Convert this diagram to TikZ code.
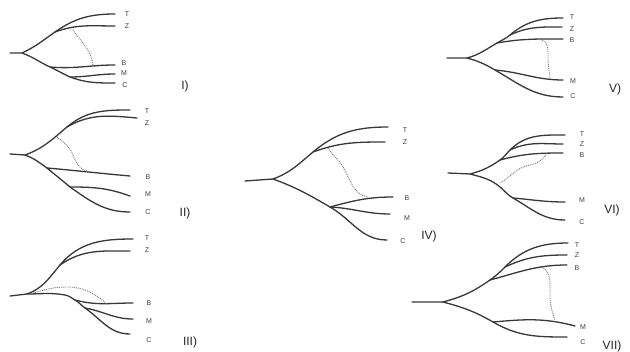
\documentclass[tikz,border=0pt]{standalone}
\usepackage{fontspec}
\setsansfont{Liberation Sans}
\begin{document}
\begin{tikzpicture}[x=1pt,y=-1pt,
  br/.style={draw=black!78, line width=1.3pt, line cap=round, line join=round},
  dt/.style={draw=black!55, line width=0.9pt, densely dotted},
  leaf/.style={font=\sffamily\fontsize{7}{7}\selectfont, text=black!75, inner sep=0pt},
  plab/.style={font=\sffamily\fontsize{12}{12}\selectfont, text=black!85, inner sep=0pt}]
\useasboundingbox (0,0) rectangle (630,352);
\fill[white] (0,0) rectangle (630,352);

% ---------- Panel I ----------
\coordinate (I0) at (10,53); \coordinate (Ir) at (22,53);
\coordinate (Iu) at (55,32); \coordinate (IT) at (115,14); \coordinate (IZ) at (115,26);
\coordinate (Il1) at (50,67); \coordinate (Il2) at (70,77);
\coordinate (IB) at (115,65); \coordinate (IM) at (115,74); \coordinate (IC) at (115,83);
\coordinate (Id1) at (73,30); \coordinate (Id2) at (93,66);
\draw[br] (I0) -- (Ir) to[out=25,in=215] (Iu) to[out=35,in=180] (IT);
\draw[br] (Iu) to[out=20,in=180] (IZ);
\draw[br] (Ir) to[out=-20,in=155] (Il1) to[out=-25,in=155] (Il2) to[out=-20,in=180] (IC);
\draw[br] (Il1) to[out=-5,in=180] (IB);
\draw[br] (Il2) to[out=0,in=180] (IM);
\draw[dt] (Id1) to[out=-55,in=95] (Id2);
\node[leaf] (tI) at (127,14) {T}; \node[leaf] (zI) at (127,26) {Z};
\node[leaf] (bI) at (124,63) {B}; \node[leaf] (mI) at (124,73) {M}; \node[leaf] (cI) at (125,85) {C};
\node[plab] (pI) at (185,86) {I)};

% ---------- Panel II ----------
\coordinate (II0) at (10,154); \coordinate (IIr) at (25,155);
\coordinate (IIu) at (67,127); \coordinate (IIT) at (130,110); \coordinate (IIZ) at (137,118);
\coordinate (IIl1) at (47,168); \coordinate (IIl2) at (70,187);
\coordinate (IIB) at (130,176); \coordinate (IIM) at (130,196); \coordinate (IIC) at (130,212);
\coordinate (IId1) at (57,137); \coordinate (IId2) at (90,172);
\draw[br] (II0) -- (IIr) to[out=20,in=220] (IIu) to[out=40,in=180] (IIT);
\draw[br] (IIu) to[out=30,in=175] (IIZ);
\draw[br] (IIr) to[out=-20,in=145] (IIl1) to[out=-40,in=140] (IIl2) to[out=-35,in=180] (IIC);
\draw[br] (IIl1) to[out=-5,in=175] (IIB);
\draw[br] (IIl2) to[out=0,in=160] (IIM);
\draw[dt] (IId1) to[out=-40,in=110] (73,155) to[out=-70,in=170] (IId2);
\node[leaf] (tII) at (147,111) {T}; \node[leaf] (zII) at (147,123) {Z};
\node[leaf] (bII) at (148,177) {B}; \node[leaf] (mII) at (148,194) {M}; \node[leaf] (cII) at (148,212) {C};
\node[plab] (pII) at (185,213) {II)};

% ---------- Panel III ----------
\coordinate (III0) at (10,296); \coordinate (IIIr) at (27,294);
\coordinate (IIIu) at (60,265); \coordinate (IIIT) at (133,239); \coordinate (IIIZ) at (130,251);
\coordinate (IIIl1) at (75,300); \coordinate (IIIl2) at (85,308);
\coordinate (IIIB) at (133,303); \coordinate (IIIM) at (133,319); \coordinate (IIIC) at (130,334);
\coordinate (IIId1) at (33,293); \coordinate (IIId2) at (107,304);
\draw[br] (III0) -- (IIIr) to[out=20,in=230] (IIIu) to[out=50,in=180] (IIIT);
\draw[br] (IIIu) to[out=35,in=180] (IIIZ);
\draw[br] (IIIr) to[out=0,in=170] (65,295) to[out=-10,in=150] (IIIl1) to[out=-30,in=145] (IIIl2) to[out=-35,in=180] (IIIC);
\draw[br] (IIIl1) to[out=-15,in=180] (IIIB);
\draw[br] (IIIl2) to[out=-10,in=180] (IIIM);
\draw[dt] (IIId1) to[out=15,in=180] (67,287) to[out=0,in=140] (IIId2);
\node[leaf] (tIII) at (147,238) {T}; \node[leaf] (zIII) at (147,250) {Z};
\node[leaf] (bIII) at (149,303) {B}; \node[leaf] (mIII) at (149,321) {M}; \node[leaf] (cIII) at (149,340) {C};
\node[plab] (pIII) at (190,342) {III)};

% ---------- Panel IV ----------
\coordinate (IV0) at (245,181); \coordinate (IVr) at (273,179);
\coordinate (IVu) at (313,152); \coordinate (IVT) at (388,127); \coordinate (IVZ) at (385,142);
\coordinate (IVl) at (330,207);
\coordinate (IVB) at (393,197); \coordinate (IVM) at (390,214); \coordinate (IVC) at (387,240);
\coordinate (IVd1) at (328,148); \coordinate (IVd2) at (368,197);
\draw[br] (IV0) -- (IVr) to[out=20,in=220] (IVu) to[out=40,in=180] (IVT);
\draw[br] (IVu) to[out=20,in=180] (IVZ);
\draw[br] (IVr) to[out=-20,in=150] (IVl) to[out=-30,in=180] (IVC);
\draw[br] (IVl) to[out=15,in=180] (IVB);
\draw[br] (IVl) to[out=-3,in=180] (IVM);
\draw[dt] (IVd1) to[out=-60,in=120] (343,167) to[out=-60,in=170] (IVd2);
\node[leaf] (tIV) at (405,130) {T}; \node[leaf] (zIV) at (405,142) {Z};
\node[leaf] (bIV) at (407,198) {B}; \node[leaf] (mIV) at (407,218) {M}; \node[leaf] (cIV) at (403,241) {C};
\node[plab] (pIV) at (429,236) {IV)};

% ---------- Panel V ----------
\coordinate (V0) at (447,58); \coordinate (Vr) at (467,58);
\coordinate (Vb) at (497,43); \coordinate (Vz) at (510,35);
\coordinate (VT) at (563,18); \coordinate (VZ) at (562,27); \coordinate (VB) at (563,39);
\coordinate (Vl) at (495,70); \coordinate (VM) at (563,80); \coordinate (VC) at (563,97);
\coordinate (Vd1) at (542,40); \coordinate (Vd2) at (550,79);
\draw[br] (V0) -- (Vr) to[out=15,in=210] (Vb) to[out=30,in=220] (Vz) to[out=40,in=180] (VT);
\draw[br] (Vz) to[out=25,in=180] (VZ);
\draw[br] (Vb) to[out=10,in=180] (VB);
\draw[br] (Vr) to[out=-15,in=150] (Vl) to[out=-30,in=180] (VC);
\draw[br] (Vl) to[out=-5,in=180] (VM);
\draw[dt] (Vd1) to[out=-20,in=90] (548,57) to[out=-90,in=95] (Vd2);
\node[leaf] (tV) at (572,17) {T}; \node[leaf] (zV) at (572,29) {Z};
\node[leaf] (bV) at (572,40) {B}; \node[leaf] (mV) at (573,81) {M}; \node[leaf] (cV) at (573,96) {C};
\node[plab] (pV) at (615,89) {V)};

% ---------- Panel VI ----------
\coordinate (VI0) at (448,173); \coordinate (VIr) at (470,174);
\coordinate (VIb) at (500,160); \coordinate (VIz) at (510,150);
\coordinate (VIT) at (565,135); \coordinate (VIZ) at (563,144); \coordinate (VIB) at (563,153);
\coordinate (VIl1) at (500,187); \coordinate (VIl) at (513,198);
\coordinate (VIM) at (565,202); \coordinate (VIC) at (565,220);
\coordinate (VId1) at (547,153); \coordinate (VId2) at (500,183);
\draw[br] (VI0) -- (VIr) to[out=15,in=215] (VIb) to[out=35,in=225] (VIz) to[out=45,in=180] (VIT);
\draw[br] (VIz) to[out=25,in=180] (VIZ);
\draw[br] (VIb) to[out=15,in=180] (VIB);
\draw[br] (VIr) to[out=-15,in=140] (VIl1) to[out=-40,in=150] (VIl) to[out=-30,in=180] (VIC);
\draw[br] (VIl) to[out=-5,in=180] (VIM);
\draw[dt] (VId1) to[out=-120,in=10] (530,165) to[out=190,in=30] (VId2);
\node[leaf] (tVI) at (582,134) {T}; \node[leaf] (zVI) at (582,144) {Z};
\node[leaf] (bVI) at (582,155) {B}; \node[leaf] (mVI) at (582,200) {M}; \node[leaf] (cVI) at (582,222) {C};
\node[plab] (pVI) at (612,210) {VI)};

% ---------- Panel VII ----------
\coordinate (VII0) at (412,302); \coordinate (VIIr) at (443,302);
\coordinate (VIIb) at (490,280); \coordinate (VIIz) at (505,267);
\coordinate (VIIT) at (568,243); \coordinate (VIIZ) at (567,255); \coordinate (VIIB) at (567,265);
\coordinate (VIIl) at (493,322); \coordinate (VIIM) at (575,326); \coordinate (VIIC) at (567,337);
\coordinate (VIId1) at (542,267); \coordinate (VIId2) at (555,320);
\draw[br] (VII0) -- (VIIr) to[out=15,in=215] (VIIb) to[out=35,in=225] (VIIz) to[out=45,in=180] (VIIT);
\draw[br] (VIIz) to[out=25,in=180] (VIIZ);
\draw[br] (VIIb) to[out=15,in=180] (VIIB);
\draw[br] (VIIr) to[out=-15,in=150] (VIIl) to[out=-30,in=180] (VIIC);
\draw[br] (VIIl) to[out=5,in=165] (VIIM);
\draw[dt] (VIId1) to[out=-30,in=90] (550,293) to[out=-90,in=110] (VIId2);
\node[leaf] (tVII) at (577,245) {T}; \node[leaf] (zVII) at (577,255) {Z};
\node[leaf] (bVII) at (577,268) {B}; \node[leaf] (mVII) at (583,327) {M}; \node[leaf] (cVII) at (583,342) {C};
\node[plab] (pVII) at (612,346) {VII)};
\end{tikzpicture}
\end{document}
